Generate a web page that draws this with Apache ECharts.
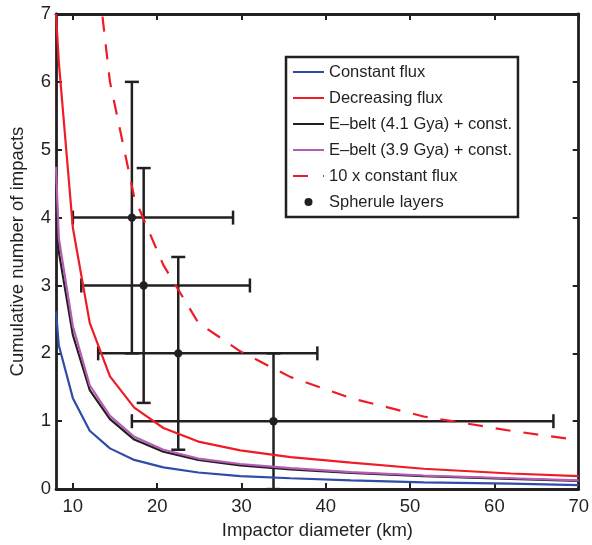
<!DOCTYPE html>
<html>
<head>
<meta charset="utf-8">
<script src="https://cdn.jsdelivr.net/npm/echarts@6/dist/echarts.min.js"></script>
<style>
html,body{margin:0;padding:0;background:#fff;}
#chart{width:592px;height:545px;}
</style>
</head>
<body>
<div id="chart"></div>
<script>
// ---- data ----
const diameters = [8, 8.33, 10, 12, 14.4, 17.28, 20.74, 24.88, 29.86, 35.83, 43, 51.6, 61.92, 70];
const constantFlux = [2.62, 2.12, 1.34, 0.86, 0.6, 0.43, 0.32, 0.245, 0.19, 0.16, 0.13, 0.1, 0.08, 0.06];
const decreasingFlux = [7.0, 6.3, 3.85, 2.45, 1.66, 1.2, 0.9, 0.7, 0.57, 0.47, 0.39, 0.3, 0.23, 0.19];
const eBelt41 = [4.5, 3.5, 2.27, 1.46, 1.03, 0.73, 0.55, 0.43, 0.35, 0.29, 0.24, 0.19, 0.15, 0.12];
const eBelt39 = [4.75, 3.7, 2.4, 1.53, 1.08, 0.77, 0.58, 0.45, 0.37, 0.31, 0.25, 0.2, 0.16, 0.13];
const tenxConstant = [null, null, null, 8.6, 6.0, 4.3, 3.3, 2.45, 2.03, 1.65, 1.34, 1.07, 0.86, 0.72];

const sphDiameter = [17, 18.4, 22.5, 33.8];
const sphImpacts = [4, 3, 2, 1];
const sphDiamLow = [10, 11, 13, 17];
const sphDiamHigh = [29, 31, 39, 67];
const sphImpLow = [2, 1.27, 0.58, 0];
const sphImpHigh = [6, 4.73, 3.42, 2];

const xTicks = [10, 20, 30, 40, 50, 60, 70];
const yTicks = [0, 1, 2, 3, 4, 5, 6, 7];

const seriesNames = ['Constant flux', 'Decreasing flux', 'E\u2013belt (4.1 Gya) + const.',
  'E\u2013belt (3.9 Gya) + const.', '10 x constant flux', 'Spherule layers'];

// ---- build ----
function pairs(ys) {
  return diameters.map((d, i) => [d, ys[i]]);
}
const sphData = sphDiameter.map((d, i) => [d, sphImpacts[i], sphDiamLow[i], sphDiamHigh[i], sphImpLow[i], sphImpHigh[i]]);

const FONT = 'Liberation Sans, Arial, Helvetica, sans-serif';
const BLUE = '#2e4ca8', RED = '#ee1c25', BLACK = '#231f20', PURPLE = '#b35db3';

// legend icon shapes (solid line sample, dashed line sample)
const SOLID_ICON = 'path://M0,0 L31,0 L31,2 L0,2 Z';
const DASH_ICON = 'path://M0,0 L15,0 L15,2 L0,2 Z M30,0 L31,0 L31,2 L30,2 Z';

function lineSeries(name, data, color, extra) {
  return Object.assign({
    name: name, type: 'line', data: data, showSymbol: false, symbol: 'none',
    smooth: false, clip: true, connectNulls: false,
    lineStyle: { color: color, width: 2.2 }, itemStyle: { color: color },
    emphasis: { disabled: true }, animation: false
  }, extra || {});
}

const axisCommon = {
  type: 'value',
  axisLine: { show: true, onZero: false, lineStyle: { color: BLACK, width: 2.8 } },
  splitLine: { show: false },
  axisTick: { show: true, inside: true, length: 6, lineStyle: { color: BLACK, width: 2 } }
};

const chart = echarts.init(document.getElementById('chart'), null, { renderer: 'canvas' });
chart.setOption({
  animation: false,
  backgroundColor: '#fff',
  grid: { left: 56, right: 9, top: 14, bottom: 54, containLabel: false },
  legend: {
    orient: 'vertical', left: 286, top: 57,
    padding: [6, 6, 6, 7],
    itemWidth: 31, itemHeight: 8, itemGap: 8,
    symbolKeepAspect: true,
    backgroundColor: '#fff', borderColor: BLACK, borderWidth: 2.5, borderRadius: 0,
    textStyle: { fontFamily: FONT, fontSize: 16.5, color: BLACK, lineHeight: 18 },
    selectedMode: false,
    data: [
      { name: seriesNames[0], icon: SOLID_ICON }, { name: seriesNames[1], icon: SOLID_ICON },
      { name: seriesNames[2], icon: SOLID_ICON }, { name: seriesNames[3], icon: SOLID_ICON },
      { name: seriesNames[4], icon: DASH_ICON }, { name: seriesNames[5], icon: 'circle' }
    ]
  },
  xAxis: [
    Object.assign({}, axisCommon, {
      position: 'bottom', min: 8, max: 70,
      name: 'Impactor diameter (km)', nameLocation: 'middle', nameGap: 31,
      nameTextStyle: { fontFamily: FONT, fontSize: 18.5, color: BLACK },
      axisTick: Object.assign({}, axisCommon.axisTick, { customValues: xTicks }),
      axisLabel: { customValues: xTicks, fontFamily: FONT, fontSize: 18.5, color: BLACK, margin: 8 }
    }),
    Object.assign({}, axisCommon, {
      position: 'top', min: 8, max: 70,
      axisTick: Object.assign({}, axisCommon.axisTick, { customValues: xTicks }),
      axisLabel: { show: false }
    })
  ],
  yAxis: [
    Object.assign({}, axisCommon, {
      position: 'left', min: 0, max: 7, interval: 1,
      name: 'Cumulative number of impacts', nameLocation: 'middle', nameGap: 29,
      nameTextStyle: { fontFamily: FONT, fontSize: 18.5, color: BLACK },
      axisTick: Object.assign({}, axisCommon.axisTick, { customValues: yTicks }),
      axisLabel: { customValues: yTicks, fontFamily: FONT, fontSize: 18.5, color: BLACK, margin: 5 }
    }),
    Object.assign({}, axisCommon, {
      position: 'right', min: 0, max: 7, interval: 1,
      axisTick: Object.assign({}, axisCommon.axisTick, { customValues: yTicks }),
      axisLabel: { show: false }
    })
  ],
  series: [
    lineSeries(seriesNames[0], pairs(constantFlux), BLUE),
    lineSeries(seriesNames[1], pairs(decreasingFlux), RED),
    lineSeries(seriesNames[2], pairs(eBelt41), BLACK),
    lineSeries(seriesNames[3], pairs(eBelt39), PURPLE),
    lineSeries(seriesNames[4], pairs(tenxConstant), RED, { lineStyle: { color: RED, width: 2.2, type: [15, 13] } }),
    {
      name: seriesNames[5], type: 'custom', data: sphData,
      encode: { x: [0, 2, 3], y: [1, 4, 5] },
      itemStyle: { color: BLACK },
      animation: false, z: 3,
      renderItem: function (params, api) {
        const x = api.value(0), y = api.value(1);
        const c = api.coord([x, y]);
        const l = api.coord([api.value(2), y]);
        const r = api.coord([api.value(3), y]);
        const b = api.coord([x, api.value(4)]);
        const t = api.coord([x, api.value(5)]);
        const cap = 7;
        const st = { stroke: BLACK, lineWidth: 2.5, fill: null };
        function seg(x1, y1, x2, y2) {
          return { type: 'line', shape: { x1: x1, y1: y1, x2: x2, y2: y2 }, style: st };
        }
        return {
          type: 'group',
          children: [
            seg(l[0], c[1], r[0], c[1]),
            seg(l[0], c[1] - cap, l[0], c[1] + cap),
            seg(r[0], c[1] - cap, r[0], c[1] + cap),
            seg(c[0], b[1], c[0], t[1]),
            seg(c[0] - cap, b[1], c[0] + cap, b[1]),
            seg(c[0] - cap, t[1], c[0] + cap, t[1]),
            { type: 'circle', shape: { cx: c[0], cy: c[1], r: 4.2 }, style: { fill: BLACK } }
          ]
        };
      }
    }
  ]
});
</script>
</body>
</html>
